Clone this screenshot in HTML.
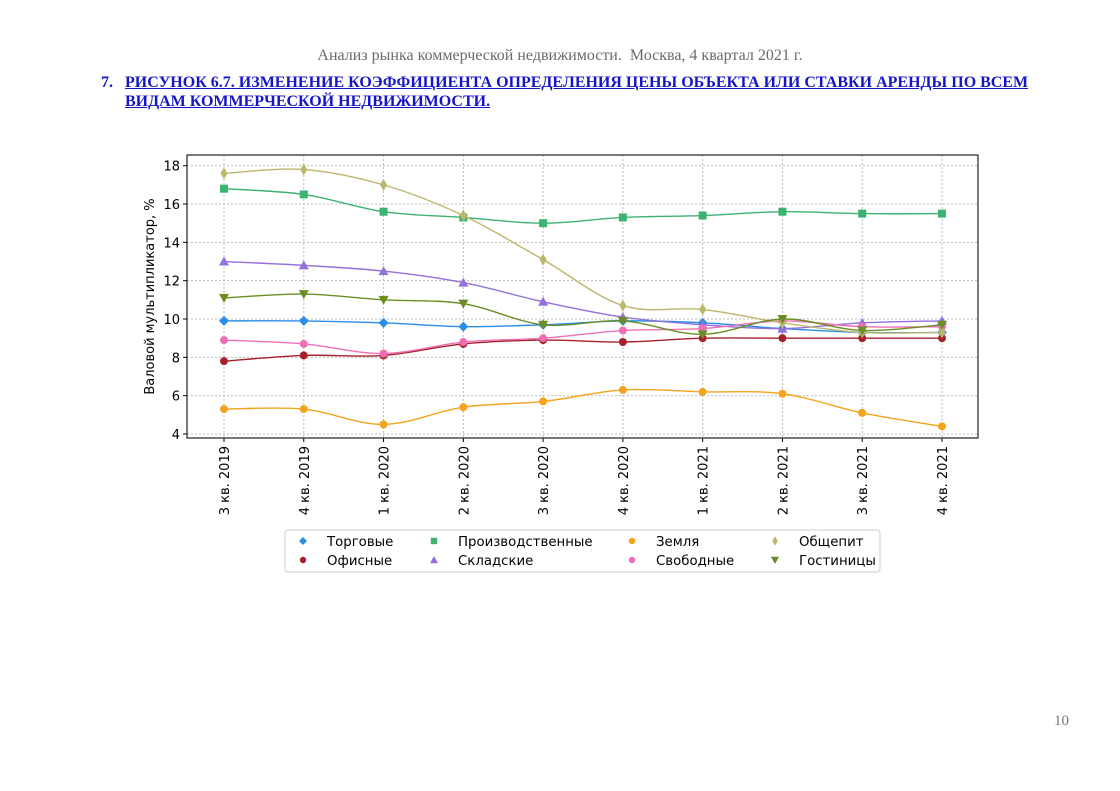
<!DOCTYPE html>
<html><head><meta charset="utf-8"><style>
body{margin:0;width:1120px;height:791px;background:#fff;position:relative;overflow:hidden;font-family:"Liberation Serif",serif}
.hdr{position:absolute;top:47px;left:0;width:1120px;text-align:center;color:#6a6a6a;font-size:16px}
.ttl{position:absolute;left:101px;top:73px;color:#1515c8;font-weight:bold;font-size:16px;line-height:19px}
.ttl span.n{position:absolute;left:0;top:0;color:#1515c8}
.ttl div{margin-left:24px;text-decoration:underline}
.pg{position:absolute;left:1054px;top:713px;color:#777;font-size:15px}
</style></head><body>
<div class="hdr">Анализ рынка коммерческой недвижимости.&nbsp; Москва, 4 квартал 2021 г.</div>
<div class="ttl"><span class="n">7.</span><div>РИСУНОК 6.7. ИЗМЕНЕНИЕ КОЭФФИЦИЕНТА ОПРЕДЕЛЕНИЯ ЦЕНЫ ОБЪЕКТА ИЛИ СТАВКИ АРЕНДЫ ПО ВСЕМ<br>ВИДАМ КОММЕРЧЕСКОЙ НЕДВИЖИМОСТИ.</div></div>
<div class="pg">10</div>
<svg id="chart" width="1120" height="791" style="position:absolute;left:0;top:0" font-family="DejaVu Sans, sans-serif"></svg>
<script>
const categories=["3 кв. 2019","4 кв. 2019","1 кв. 2020","2 кв. 2020","3 кв. 2020","4 кв. 2020","1 кв. 2021","2 кв. 2021","3 кв. 2021","4 кв. 2021"];
const yTicks=[4,6,8,10,12,14,16,18];
const seriesNames=["Торговые","Офисные","Производственные","Складские","Земля","Свободные","Общепит","Гостиницы"];
const torgovye=[9.9,9.9,9.8,9.6,9.7,9.9,9.8,9.5,9.3,9.3];
const ofisnye=[7.8,8.1,8.1,8.7,8.9,8.8,9.0,9.0,9.0,9.0];
const proizv=[16.8,16.5,15.6,15.3,15.0,15.3,15.4,15.6,15.5,15.5];
const sklad=[13.0,12.8,12.5,11.9,10.9,10.1,9.7,9.5,9.8,9.9];
const zemlya=[5.3,5.3,4.5,5.4,5.7,6.3,6.2,6.1,5.1,4.4];
const svobod=[8.9,8.7,8.2,8.8,9.0,9.4,9.5,9.9,9.6,9.6];
const obshepit=[17.6,17.8,17.0,15.4,13.1,10.7,10.5,9.8,9.3,9.3];
const gostin=[11.1,11.3,11.0,10.8,9.7,9.9,9.2,10.0,9.4,9.7];
const seriesData=[torgovye,ofisnye,proizv,sklad,zemlya,svobod,obshepit,gostin];
const colors=["#2a8ee6","#a5222a","#3cb371","#9370db","#f5a31c","#ee6fb5","#bdb76b","#6b8e23"];
const markers=["diamond","circle","square","triangle","circle","circle","thin","tridown"];
const NS="http://www.w3.org/2000/svg",svg=document.getElementById('chart');
const L=187,R=978,T=155,B=438;
const x=i=>224+i*(942-224)/(categories.length-1);
const y=v=>434-(v-4)*(434-165.7)/14;
function mk(t,a,p){const e=document.createElementNS(NS,t);for(const k in a)e.setAttribute(k,a[k]);(p||svg).appendChild(e);return e;}
yTicks.forEach(v=>{
 const g=mk('line',{x1:L,x2:R,y1:y(v),y2:y(v),stroke:'#bbb','stroke-dasharray':'2,2'});
 
 mk('line',{x1:L-4,x2:L,y1:y(v),y2:y(v),stroke:'#000'});
 const t=mk('text',{x:L-7,y:y(v)+5,'text-anchor':'end','font-size':13});t.textContent=v;
 
});
categories.forEach((c,i)=>{
 const g=mk('line',{x1:x(i),x2:x(i),y1:T,y2:B,stroke:'#bbb','stroke-dasharray':'2,2'});
 
 mk('line',{x1:x(i),x2:x(i),y1:B,y2:B+4,stroke:'#000'});
 const t=mk('text',{x:0,y:0,'text-anchor':'end','font-size':13,transform:`translate(${x(i)+5},${B+8}) rotate(-90)`});t.textContent=c;
 
});
const yt=mk('text',{x:0,y:0,'text-anchor':'middle','font-size':13,transform:`translate(154,${(T+B)/2}) rotate(-90)`});
yt.textContent='Валовой мультипликатор, %';

function marker(type,cx,cy,col,p,s){
 s=s||1;let e;
 if(type==='diamond')e=mk('polygon',{points:`${cx},${cy-5*s} ${cx+5*s},${cy} ${cx},${cy+5*s} ${cx-5*s},${cy}`,fill:col},p);
 else if(type==='thin')e=mk('polygon',{points:`${cx},${cy-6*s} ${cx+3.5*s},${cy} ${cx},${cy+6*s} ${cx-3.5*s},${cy}`,fill:col},p);
 else if(type==='square')e=mk('rect',{x:cx-4*s,y:cy-4*s,width:8*s,height:8*s,fill:col},p);
 else if(type==='triangle')e=mk('polygon',{points:`${cx},${cy-5*s} ${cx+5*s},${cy+4*s} ${cx-5*s},${cy+4*s}`,fill:col},p);
 else if(type==='tridown')e=mk('polygon',{points:`${cx},${cy+5*s} ${cx+5*s},${cy-4*s} ${cx-5*s},${cy-4*s}`,fill:col},p);
 else e=mk('circle',{cx,cy,r:4*s,fill:col},p);
 return e;
}
seriesData.forEach((d,si)=>{
 const g=mk('g',{});
 
 const P=d.map((v,i)=>[x(i),y(v)]);
 let s=`M${P[0][0]},${P[0][1]}`;
 for(let i=0;i<P.length-1;i++){
  const p0=P[Math.max(0,i-1)],p1=P[i],p2=P[i+1],p3=P[Math.min(P.length-1,i+2)];
  s+=` C${p1[0]+(p2[0]-p0[0])/6},${p1[1]+(p2[1]-p0[1])/6} ${p2[0]-(p3[0]-p1[0])/6},${p2[1]-(p3[1]-p1[1])/6} ${p2[0]},${p2[1]}`;
 }
 const l=mk('path',{d:s,fill:'none',stroke:colors[si],'stroke-width':1.4},g);
 
 P.forEach(p=>{const m=marker(markers[si],p[0],p[1],colors[si],g);
  });
});
const fr=mk('rect',{x:L,y:T,width:R-L,height:B-T,fill:'none',stroke:'#222','stroke-width':1.2});

const lg=mk('g',{});
mk('rect',{x:285,y:530,width:595,height:42,fill:'#fff',stroke:'#ccc',rx:3},lg);
const colX=[303,434,632,775];
seriesNames.forEach((n,i)=>{
 const c=Math.floor(i/2),r=i%2;const cx=colX[c],cy=541+r*19;
 const e=mk('g',{},lg);
 marker(markers[i],cx,cy,colors[i],e,0.8);
 const t=mk('text',{x:cx+24,y:cy+5,'font-size':13.3},e);t.textContent=n;
});
</script>
</body></html>
